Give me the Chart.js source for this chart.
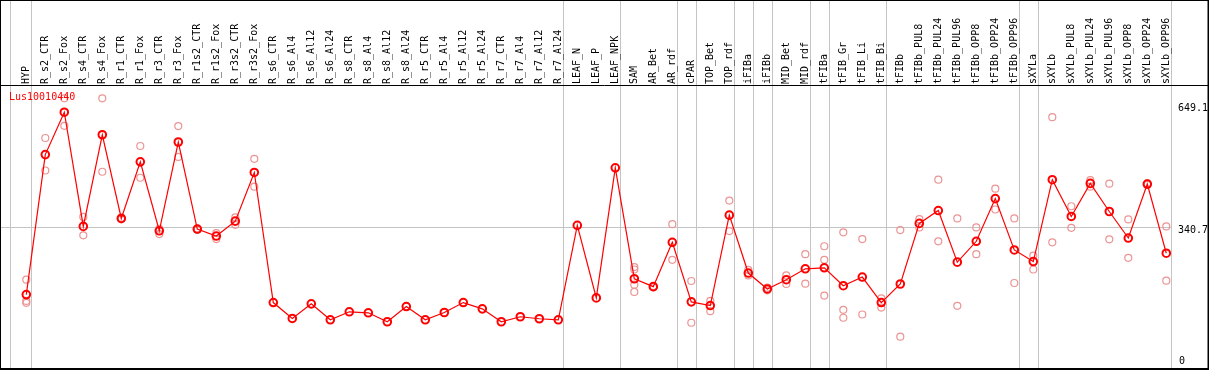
<!DOCTYPE html>
<html>
<head>
<meta charset="utf-8">
<title>Lus10010440</title>
<script src="https://cdn.jsdelivr.net/npm/chart.js@4.4.1/dist/chart.umd.min.js"></script>
<style>
  html, body { margin: 0; padding: 0; background: #fff; }
  canvas { display: block; }
</style>
</head>
<body>
<canvas id="expr" width="1209" height="370"></canvas>
<script>
// Lus10010440 expression profile — mean per sample + replicates

const geneName = 'Lus10010440';

const samples = [
  'HYP', 'R_s2_CTR', 'R_s2_Fox', 'R_s4_CTR', 'R_s4_Fox', 'R_r1_CTR', 'R_r1_Fox', 'R_r3_CTR', 'R_r3_Fox',
  'R_r1s2_CTR', 'R_r1s2_Fox', 'R_r3s2_CTR', 'R_r3s2_Fox', 'R_s6_CTR', 'R_s6_Al4', 'R_s6_Al12', 'R_s6_Al24',
  'R_s8_CTR', 'R_s8_Al4', 'R_s8_Al12', 'R_s8_Al24', 'R_r5_CTR', 'R_r5_Al4', 'R_r5_Al12', 'R_r5_Al24',
  'R_r7_CTR', 'R_r7_Al4', 'R_r7_Al12', 'R_r7_Al24', 'LEAF_N', 'LEAF_P', 'LEAF_NPK', 'SAM', 'AR_Bet', 'AR_rdf',
  'cPAR', 'TOP_Bet', 'TOP_rdf', 'iFIBa', 'iFIBb', 'MID_Bet', 'MID_rdf', 'tFIBa', 'tFIB_Gr', 'tFIB_Li', 'tFIB_Bi',
  'tFIBb', 'tFIBb_PUL8', 'tFIBb_PUL24', 'tFIBb_PUL96', 'tFIBb_OPP8', 'tFIBb_OPP24', 'tFIBb_OPP96',
  'sXYLa', 'sXYLb', 'sXYLb_PUL8', 'sXYLb_PUL24', 'sXYLb_PUL96', 'sXYLb_OPP8', 'sXYLb_OPP24', 'sXYLb_OPP96'
];

const meanValues = [
  180.1, 514.6, 615.9, 343.1, 562.0, 362.0, 497.3, 332.6, 544.7,
  336.7, 320.0, 355.6, 471.9, 161.1, 123.1, 158.0, 120.0,
  139.0, 136.7, 115.3, 151.6, 120.0, 137.4, 161.1, 146.1,
  115.3, 127.2, 122.4, 120.0, 345.4, 172.2, 483.0, 218.0, 199.1, 305.1,
  162.8, 154.0, 369.9, 231.6, 193.6, 215.7, 241.8, 244.1, 201.4, 222.1, 161.1,
  205.5, 350.2, 381.0, 257.7, 307.5, 409.5, 286.8,
  259.1, 454.6, 366.8, 445.8, 378.7, 315.3, 444.1, 279.0
];

const rep1 = [
  215.7, 554.2, 649.1, 365.8, 649.1, 360.0, 535.2, 337.4, 582.7,
  338.0, 327.2, 364.4, 504.4, null, null, null, null,
  null, null, null, null, null, null, null, null,
  null, null, null, null, null, null, null, 245.8, 200.7, 348.5,
  212.6, 165.1, 404.7, 239.4, 196.7, 225.9, 276.6, 295.6, 328.8, 312.9, 171.3,
  334.3, 360.4, 454.6, 362.0, 340.7, 433.2, 362.0,
  273.3, 604.0, 391.2, 453.6, 445.1, 359.7, 446.0, 343.1
];

const rep2 = [
  165.1, 476.6, 583.4, 321.7, 473.6, 364.0, 459.3, 324.8, 509.1,
  335.0, 312.9, 346.9, 438.0, null, null, null, null,
  null, null, null, null, null, null, null, null,
  null, null, null, null, null, null, null, 240.1, 197.4, 263.1,
  112.9, 140.5, 331.9, 225.9, 190.3, 205.5, 206.2, 263.1, 143.8, 132.6, 149.2,
  79.7, 340.7, 307.5, 153.3, 276.6, 383.4, 207.8,
  240.1, 305.1, 339.7, 438.0, 312.2, 267.9, 442.0, 213.3
];

const rep3 = [
  160.4, null, null, null, null, null, null, null, null,
  null, null, null, null, null, null, null, null,
  null, null, null, null, null, null, null, null,
  null, null, null, null, null, null, null, 203.8, null, null,
  null, null, null, null, null, null, null, 177.7, 124.8, null, null,
  null, null, null, null, null, null, null,
  null, null, null, null, null, null, null, null
];

const rep4 = [
  null, null, null, null, null, null, null, null, null,
  null, null, null, null, null, null, null, null,
  null, null, null, null, null, null, null, null,
  null, null, null, null, null, null, null, 186.5, null, null,
  null, null, null, null, null, null, null, null, null, null, null,
  null, null, null, null, null, null, null,
  null, null, null, null, null, null, null, null
];

// index of the last sample in each tissue group (a grey rule follows it)
const groupEnds = [0, 28, 31, 34, 35, 37, 38, 39, 41, 42, 45, 52, 53, 60];

const yTicks = [0, 340.7, 649.1];
const yMin = 0;
const yMax = 649.1;
const gridValue = 340.7;

const MONO = '10px "DejaVu Sans Mono", "Liberation Mono", monospace';
const GREY = '#c4c4c4';

// ─── Decorations: frame, group rules, labels ────────────────────────────────

const decor = {
  id: 'decor',
  beforeDatasetsDraw(chart) {
    const { ctx, width, height, scales: { x, y } } = chart;
    ctx.save();
    ctx.strokeStyle = GREY;
    ctx.lineWidth = 1;
    ctx.beginPath();
    const lead = Math.round(x.getPixelForValue(0) - 16) + 0.5;
    ctx.moveTo(lead, 0); ctx.lineTo(lead, height);
    groupEnds.forEach(i => {
      const px = Math.round(x.getPixelForValue(i) + 4.3) + 0.5;
      ctx.moveTo(px, 0); ctx.lineTo(px, height);
    });
    const gy = Math.round(y.getPixelForValue(gridValue)) + 0.5;
    ctx.moveTo(0, gy); ctx.lineTo(x.getPixelForValue(samples.length - 1) + 4.3, gy);
    ctx.stroke();

    // header separator + outer frame
    ctx.strokeStyle = '#000';
    ctx.beginPath();
    ctx.moveTo(0, 85.5); ctx.lineTo(width, 85.5);
    ctx.stroke();
    ctx.lineWidth = 2;
    ctx.strokeRect(0, 0, width - 0.5, height - 1);
    ctx.restore();
  },
  afterDraw(chart) {
    const { ctx, scales: { x, y } } = chart;
    ctx.save();
    ctx.font = MONO;
    ctx.fillStyle = '#000';

    // rotated sample names
    samples.forEach((s, i) => {
      ctx.save();
      ctx.translate(x.getPixelForValue(i), 84);
      ctx.rotate(-Math.PI / 2);
      ctx.textAlign = 'left';
      ctx.textBaseline = 'middle';
      ctx.fillText(s, 0, 0);
      ctx.restore();
    });

    // right-hand value labels
    ctx.textAlign = 'left';
    yTicks.forEach(v => {
      const py = y.getPixelForValue(v);
      if (v === yMax) { ctx.textBaseline = 'top'; ctx.fillText(String(v), 1178, py + 5); }
      else if (v === yMin) { ctx.textBaseline = 'bottom'; ctx.fillText(String(v), 1179, py - 4); }
      else { ctx.textBaseline = 'middle'; ctx.fillText(String(v), 1178, py + 3); }
    });

    // gene name
    ctx.fillStyle = '#ff0000';
    ctx.textBaseline = 'middle';
    ctx.fillText(geneName, 9, 97);
    ctx.restore();
  }
};

// ─── Chart ──────────────────────────────────────────────────────────────────

const repStyle = {
  type: 'line',
  showLine: false,
  pointRadius: 3.5,
  pointBorderWidth: 1.2,
  pointBorderColor: '#ec9494',
  pointBackgroundColor: 'rgba(0,0,0,0)',
  clip: false,
};

new Chart(document.getElementById('expr'), {
  type: 'line',
  data: {
    labels: samples,
    datasets: [
      {
        label: geneName,
        data: meanValues,
        borderColor: '#ff0000',
        borderWidth: 1.2,
        pointRadius: 3.8,
        pointBorderWidth: 2,
        pointBorderColor: '#ff0000',
        pointBackgroundColor: 'rgba(0,0,0,0)',
        tension: 0,
        clip: false,
        order: 0,
      },
      { ...repStyle, label: 'rep1', data: rep1, order: 1 },
      { ...repStyle, label: 'rep2', data: rep2, order: 1 },
      { ...repStyle, label: 'rep3', data: rep3, order: 1 },
      { ...repStyle, label: 'rep4', data: rep4, order: 1 },
    ]
  },
  options: {
    responsive: false,
    animation: false,
    layout: { autoPadding: false, padding: { left: 16.8, right: 33.2, top: 98.3, bottom: 0 } },
    plugins: { legend: { display: false }, tooltip: { enabled: false } },
    scales: {
      x: { type: 'category', offset: true, display: false },
      y: { min: yMin, max: yMax, display: false }
    }
  },
  plugins: [decor]
});
</script>
</body>
</html>
